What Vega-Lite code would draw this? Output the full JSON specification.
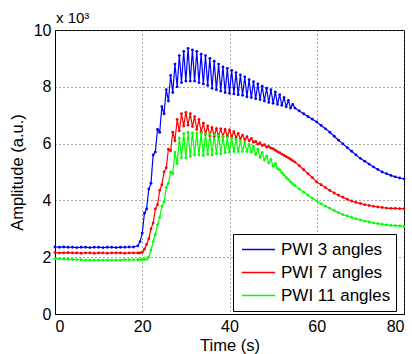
{
  "$schema": "https://vega.github.io/schema/vega-lite/v6.json",
  "autosize": "none",
  "width": 349,
  "height": 284,
  "padding": {"left": 55, "top": 30, "right": 8, "bottom": 40},
  "background": "white",
  "title": {"text": "x 10³", "anchor": "start", "frame": "group", "font": "Liberation Sans", "fontSize": 15, "fontWeight": "normal", "color": "black", "offset": 0, "dy": 4, "dx": 1},
  "config": {
    "font": "Liberation Sans",
    "view": {"stroke": "black", "strokeWidth": 1},
    "axis": {
      "domainColor": "black", "domainWidth": 1,
      "labelFont": "Liberation Sans", "labelFontSize": 16, "labelColor": "black",
      "titleFont": "Liberation Sans", "titleFontSize": 16.5, "titleFontWeight": "normal", "titleColor": "black",
      "ticks": false, "labelPadding": 4,
      "grid": true, "gridColor": "#555", "gridDash": [1, 3], "gridWidth": 1, "gridOpacity": 1
    },
    "legend": {
      "orient": "none", "legendX": 178, "legendY": 204, "fillColor": "white", "strokeColor": "black",
      "padding": 5, "labelFont": "Liberation Sans", "labelFontSize": 17, "labelColor": "black",
      "symbolType": "stroke", "symbolSize": 1100, "symbolStrokeWidth": 1.5, "symbolOffset": 3,
      "rowPadding": 2, "clipHeight": 21, "labelOffset": 5
    }
  },
  "data": {"values": [
    {"t":0,"a":2.36,"b":2.16,"c":1.95},{"t":1,"a":2.35,"b":2.15,"c":1.94},{"t":2,"a":2.36,"b":2.15,"c":1.93},{"t":3,"a":2.35,"b":2.16,"c":1.93},
    {"t":4,"a":2.35,"b":2.15,"c":1.92},{"t":5,"a":2.34,"b":2.15,"c":1.91},{"t":6,"a":2.35,"b":2.14,"c":1.91},{"t":7,"a":2.35,"b":2.15,"c":1.9},
    {"t":8,"a":2.34,"b":2.15,"c":1.9},{"t":9,"a":2.35,"b":2.14,"c":1.9},{"t":10,"a":2.35,"b":2.15,"c":1.9},{"t":11,"a":2.34,"b":2.15,"c":1.9},
    {"t":12,"a":2.35,"b":2.14,"c":1.9},{"t":13,"a":2.35,"b":2.15,"c":1.9},{"t":14,"a":2.34,"b":2.15,"c":1.9},{"t":15,"a":2.35,"b":2.15,"c":1.9},
    {"t":16,"a":2.35,"b":2.14,"c":1.91},{"t":17,"a":2.36,"b":2.15,"c":1.91},{"t":18,"a":2.36,"b":2.15,"c":1.91},{"t":19,"a":2.4,"b":2.15,"c":1.91},
    {"t":19.5,"a":2.55,"b":2.15,"c":1.91},{"t":20,"a":2.85,"b":2.17,"c":1.92},{"t":20.5,"a":3.55,"b":2.28,"c":1.92},{"t":21,"a":3.7,"b":2.45,"c":1.93},
    {"t":21.5,"a":4.4,"b":2.65,"c":2.0},{"t":22,"a":4.6,"b":3.0,"c":2.25},{"t":22.5,"a":5.6,"b":3.2,"c":2.55},{"t":23,"a":5.7,"b":3.7,"c":2.8},
    {"t":23.5,"a":6.5,"b":3.85,"c":3.15},{"t":24,"a":6.4,"b":4.35,"c":3.4},{"t":24.5,"a":7.3,"b":4.55,"c":3.8},{"t":25,"a":7.05,"b":5.0,"c":3.95},
    {"t":25.5,"a":7.9,"b":5.15,"c":4.45},{"t":26,"a":7.5,"b":5.8,"c":4.6},{"t":26.5,"a":8.4,"b":5.75,"c":5.0},{"t":27,"a":7.8,"b":6.4,"c":4.95},
    {"t":27.5,"a":8.8,"b":6.1,"c":5.7},{"t":28,"a":8.0,"b":6.85,"c":5.3},{"t":28.5,"a":9.1,"b":6.45,"c":6.2},{"t":29,"a":8.15,"b":7.05,"c":5.5},
    {"t":29.5,"a":9.25,"b":6.62,"c":6.35},{"t":30,"a":8.2,"b":7.1,"c":5.5},{"t":30.5,"a":9.35,"b":6.65,"c":6.4},{"t":31,"a":8.2,"b":7.05,"c":5.55},
    {"t":31.5,"a":9.3,"b":6.6,"c":6.38},{"t":32,"a":8.2,"b":6.95,"c":5.6},{"t":32.5,"a":9.25,"b":6.5,"c":6.38},{"t":33,"a":8.15,"b":6.85,"c":5.6},
    {"t":33.5,"a":9.15,"b":6.4,"c":6.36},{"t":34,"a":8.1,"b":6.72,"c":5.58},{"t":34.5,"a":9.1,"b":6.33,"c":6.34},{"t":35,"a":8.05,"b":6.62,"c":5.62},
    {"t":35.5,"a":9.0,"b":6.28,"c":6.32},{"t":36,"a":7.95,"b":6.56,"c":5.6},{"t":36.5,"a":8.9,"b":6.26,"c":6.3},{"t":37,"a":7.9,"b":6.53,"c":5.65},
    {"t":37.5,"a":8.8,"b":6.25,"c":6.28},{"t":38,"a":7.85,"b":6.52,"c":5.64},{"t":38.5,"a":8.7,"b":6.25,"c":6.25},{"t":39,"a":7.8,"b":6.5,"c":5.68},
    {"t":39.5,"a":8.65,"b":6.25,"c":6.22},{"t":40,"a":7.77,"b":6.48,"c":5.7},{"t":40.5,"a":8.58,"b":6.24,"c":6.19},{"t":41,"a":7.75,"b":6.42,"c":5.72},
    {"t":41.5,"a":8.5,"b":6.21,"c":6.15},{"t":42,"a":7.72,"b":6.36,"c":5.72},{"t":42.5,"a":8.42,"b":6.18,"c":6.1},{"t":43,"a":7.7,"b":6.3,"c":5.72},
    {"t":43.5,"a":8.35,"b":6.14,"c":6.04},{"t":44,"a":7.65,"b":6.24,"c":5.72},{"t":44.5,"a":8.25,"b":6.1,"c":5.97},{"t":45,"a":7.62,"b":6.18,"c":5.7},
    {"t":45.5,"a":8.18,"b":6.05,"c":5.9},{"t":46,"a":7.58,"b":6.08,"c":5.62},{"t":46.5,"a":8.1,"b":5.98,"c":5.8},{"t":47,"a":7.55,"b":6.02,"c":5.52},
    {"t":47.5,"a":8.02,"b":5.93,"c":5.68},{"t":48,"a":7.5,"b":5.96,"c":5.42},{"t":48.5,"a":7.95,"b":5.88,"c":5.56},{"t":49,"a":7.45,"b":5.9,"c":5.32},
    {"t":49.5,"a":7.9,"b":5.84,"c":5.44},{"t":50,"a":7.42,"b":5.82,"c":5.2},{"t":50.5,"a":7.82,"b":5.77,"c":5.3},{"t":51,"a":7.38,"b":5.72,"c":5.12},
    {"t":51.5,"a":7.72,"b":5.68,"c":5.08},{"t":52,"a":7.35,"b":5.63,"c":4.98},{"t":52.5,"a":7.62,"b":5.58,"c":4.9},{"t":53,"a":7.3,"b":5.54,"c":4.8},
    {"t":53.5,"a":7.52,"b":5.5,"c":4.73},{"t":54,"a":7.25,"b":5.45,"c":4.65},{"t":54.5,"a":7.38,"b":5.4,"c":4.58},{"t":55,"a":7.25,"b":5.35,"c":4.52},
    {"t":56,"a":7.15,"b":5.22,"c":4.4},{"t":57,"a":7.05,"b":5.08,"c":4.29},{"t":58,"a":6.95,"b":4.94,"c":4.18},{"t":59,"a":6.86,"b":4.8,"c":4.08},
    {"t":60,"a":6.76,"b":4.65,"c":3.98},{"t":61,"a":6.64,"b":4.55,"c":3.88},{"t":62,"a":6.52,"b":4.45,"c":3.8},{"t":63,"a":6.4,"b":4.35,"c":3.72},
    {"t":64,"a":6.26,"b":4.26,"c":3.64},{"t":65,"a":6.12,"b":4.18,"c":3.57},{"t":66,"a":5.99,"b":4.11,"c":3.5},{"t":67,"a":5.86,"b":4.04,"c":3.45},
    {"t":68,"a":5.73,"b":3.98,"c":3.4},{"t":69,"a":5.6,"b":3.93,"c":3.35},{"t":70,"a":5.48,"b":3.89,"c":3.31},{"t":71,"a":5.38,"b":3.85,"c":3.27},
    {"t":72,"a":5.28,"b":3.82,"c":3.24},{"t":73,"a":5.18,"b":3.79,"c":3.21},{"t":74,"a":5.09,"b":3.77,"c":3.18},{"t":75,"a":5.0,"b":3.75,"c":3.16},
    {"t":76,"a":4.94,"b":3.73,"c":3.14},{"t":77,"a":4.88,"b":3.72,"c":3.12},{"t":78,"a":4.83,"b":3.72,"c":3.11},{"t":79,"a":4.79,"b":3.71,"c":3.1},
    {"t":80,"a":4.76,"b":3.71,"c":3.08}
  ]},
  "transform": [
    {"fold": ["a", "b", "c"], "as": ["k", "v"]},
    {"lookup": "k", "from": {"data": {"values": [
      {"k": "a", "series": "PWI 3 angles"},
      {"k": "b", "series": "PWI 7 angles"},
      {"k": "c", "series": "PWI 11 angles"}
    ]}, "key": "k", "fields": ["series"]}}
  ],
  "mark": {"type": "line", "strokeWidth": 1.2, "point": {"filled": true, "size": 8}},
  "encoding": {
    "x": {"field": "t", "type": "quantitative", "title": "Time (s)",
          "scale": {"domain": [0, 80], "nice": false},
          "axis": {"values": [0, 20, 40, 60, 80], "titlePadding": 3}},
    "y": {"field": "v", "type": "quantitative", "title": "Amplitude (a.u.)",
          "scale": {"domain": [0, 10], "nice": false},
          "axis": {"values": [0, 2, 4, 6, 8, 10], "titlePadding": 8}},
    "color": {"field": "series", "type": "nominal", "title": null,
              "scale": {"domain": ["PWI 3 angles", "PWI 7 angles", "PWI 11 angles"],
                        "range": ["#0000ff", "#ff0000", "#00ff00"]}},
    "order": {"field": "t", "type": "quantitative"}
  }
}
